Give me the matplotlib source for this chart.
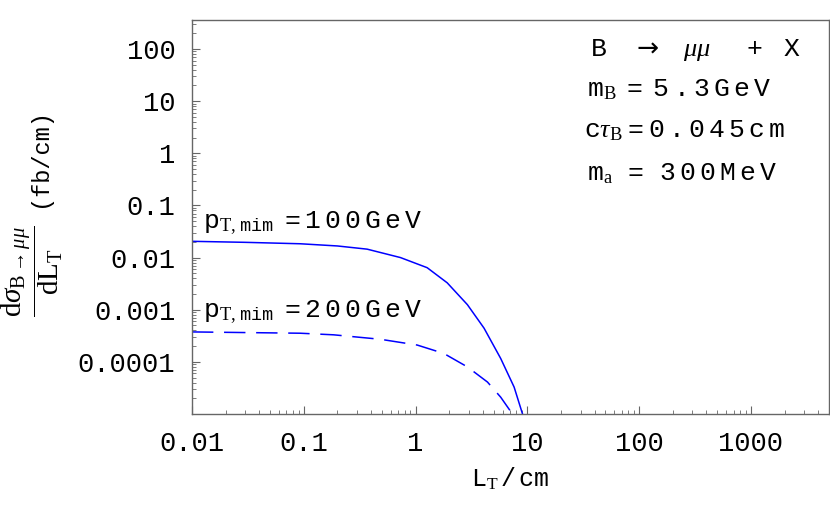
import matplotlib
matplotlib.use('Agg')
import matplotlib.pyplot as plt
from matplotlib.ticker import LogLocator, FixedLocator, FixedFormatter, NullFormatter

# transverse decay length L_T (cm) and dsigma/dL_T (fb/cm)
lt_100 = [0.01, 0.03, 0.093, 0.2, 0.369, 0.733, 1.27, 1.92, 2.91, 4.10,
          5.78, 7.62, 9.06, 9.6]
sig_100 = [0.0205, 0.0196, 0.0184, 0.0167, 0.0145, 0.0100, 0.0064, 0.00328,
           0.00125, 0.000443, 1.16e-4, 3.28e-5, 1.0e-5, 6.0e-6]

lt_200 = [0.01, 0.093, 0.185, 0.485, 1.035, 1.79, 2.91, 4.40, 5.78, 7.36, 7.9]
sig_200 = [3.75e-4, 3.54e-4, 3.3e-4, 2.71e-4, 2.1e-4, 1.45e-4, 8.0e-5,
           4.1e-5, 2.1e-5, 1.0e-5, 6.5e-6]

xticks = [0.01, 0.1, 1, 10, 100, 1000]
xticklabels = ['0.01', '0.1', '1', '10', '100', '1000']
yticks = [1e-4, 1e-3, 1e-2, 1e-1, 1, 10, 100]
yticklabels = ['0.0001', '0.001', '0.01', '0.1', '1', '10', '100']

plt.rcParams['mathtext.fontset'] = 'custom'
plt.rcParams['mathtext.rm'] = 'Liberation Serif'
plt.rcParams['mathtext.it'] = 'Liberation Serif:italic'
plt.rcParams['mathtext.bf'] = 'Liberation Serif:bold'
plt.rcParams['mathtext.tt'] = 'Liberation Mono'
plt.rcParams['mathtext.sf'] = 'DejaVu Sans'
plt.rcParams['font.family'] = ['Liberation Mono', 'DejaVu Sans']


def track(s):
    # Mathematica spreads the courier letters a little
    return r'$\:$'.join(s)


fig = plt.figure(figsize=(8.3, 5.13), dpi=100)
ax = fig.add_axes([0.2313, 0.193, 0.7675, 0.768])

ax.plot(lt_100, sig_100, color='#0000ff', lw=1.1)
ax.plot(lt_200, sig_200, color='#0000ff', lw=1.1, dashes=(14, 7))

ax.set_xscale('log')
ax.set_yscale('log')
ax.set_xlim(0.01, 5000)
ax.set_ylim(1e-5, 360)

ax.xaxis.set_major_locator(FixedLocator(xticks))
ax.xaxis.set_major_formatter(FixedFormatter(xticklabels))
ax.yaxis.set_major_locator(FixedLocator(yticks))
ax.yaxis.set_major_formatter(FixedFormatter(yticklabels))
ax.xaxis.set_minor_locator(LogLocator(base=10, subs=range(2, 10), numticks=20))
ax.yaxis.set_minor_locator(LogLocator(base=10, subs=range(2, 10), numticks=20))
ax.xaxis.set_minor_formatter(NullFormatter())
ax.yaxis.set_minor_formatter(NullFormatter())

frame_col = '#666666'
for s in ax.spines.values():
    s.set_color(frame_col)
    s.set_linewidth(1.0)
ax.tick_params(which='both', direction='in', top=False, right=False,
               color=frame_col, labelsize=19.5)
ax.tick_params(which='major', length=6, width=0.8, pad=12)
ax.tick_params(which='minor', length=3, width=0.6)

ax.set_xlabel(r'L$_\mathrm{T}\,$/$\,$cm', fontsize=18, labelpad=6)
fig.text(0.039, 0.472,
         r'$\dfrac{\mathrm{d}\sigma_{\mathrm{B}\rightarrow\mu\mu}}{\mathrm{dL}_\mathrm{T}}$',
         fontsize=21, rotation=90, ha='center', va='center')
fig.text(0.048, 0.692, '(fb/cm)', fontsize=17, rotation=90, ha='center', va='center')

fs = 19
ax.text(0.017, 0.472, r'p$_{\mathrm{T},\,\mathtt{mim}}\;\;$=$\:$' + track('100GeV'),
        transform=ax.transAxes, fontsize=fs, va='baseline')
ax.text(0.017, 0.246, r'p$_{\mathrm{T},\,\mathtt{mim}}\;\;$=$\:$' + track('200GeV'),
        transform=ax.transAxes, fontsize=fs, va='baseline')

ax.text(0.625, 0.909, r'B $\;\;\mathsf{\rightarrow}\;$ $\mu\mu\;\;\;\;$ + $\;$X',
        transform=ax.transAxes, fontsize=fs, va='baseline')
ax.text(0.620, 0.805, r'm$_\mathrm{B}\;\;$=$\;\;$' + track('5.3GeV'), transform=ax.transAxes,
        fontsize=fs, va='baseline')
ax.text(0.616, 0.701, r'c$\tau_\mathrm{B}\;$=$\;$' + track('0.045cm'), transform=ax.transAxes,
        fontsize=fs, va='baseline')
ax.text(0.620, 0.594, r'm$_\mathrm{a}\;\;\;$=$\;\;\;$' + track('300MeV'), transform=ax.transAxes,
        fontsize=fs, va='baseline')

fig.savefig('out.png', dpi=100)
